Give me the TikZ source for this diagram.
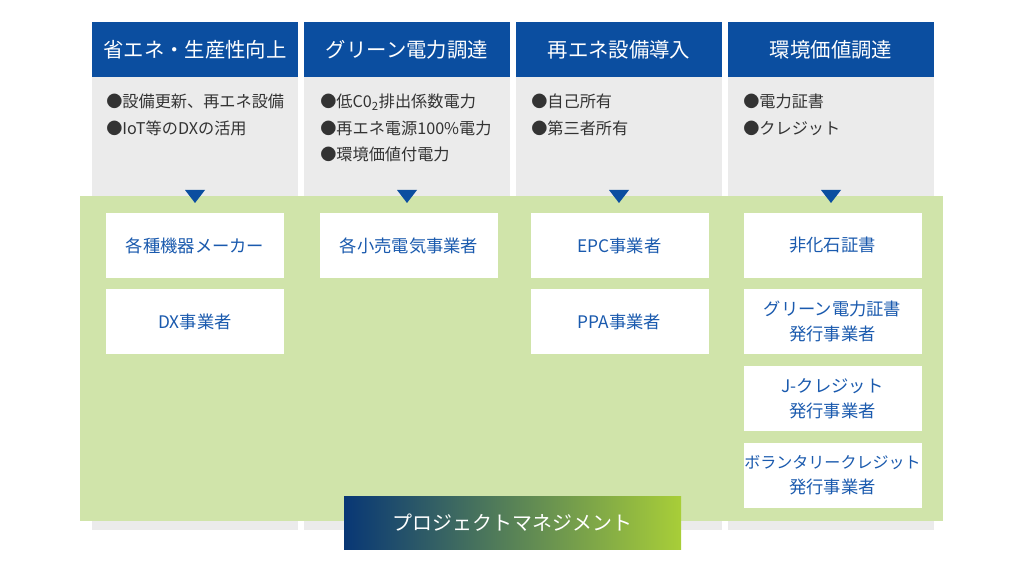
\documentclass[tikz,border=0pt]{standalone}
\usepackage{fontspec}
\setmainfont{Noto Sans CJK JP}
\usepackage{tikz}
\usetikzlibrary{positioning}

\definecolor{hdblue}{RGB}{11,78,160}
\definecolor{txblue}{RGB}{26,90,174}
\definecolor{colgray}{RGB}{235,235,235}
\definecolor{panelgreen}{RGB}{208,228,170}
\definecolor{gradnavy}{RGB}{8,55,117}
\definecolor{gradlime}{RGB}{168,206,56}
\definecolor{bultext}{RGB}{51,51,51}

\begin{document}
\begin{tikzpicture}[x=0.025cm, y=-0.025cm,
  header/.style={fill=hdblue, text=white, minimum width=206*0.025cm, minimum height=55*0.025cm,
    inner sep=0pt, font=\fontsize{14.5}{17}\selectfont},
  bullets/.style={anchor=north west, text=bultext, align=left, inner sep=0pt,
    font=\fontsize{11.5}{18.8}\selectfont},
  player/.style={fill=white, text=txblue, minimum width=178*0.025cm, minimum height=65*0.025cm,
    inner sep=0pt, align=center, font=\fontsize{12.3}{17.7}\selectfont},
  pointer/.style={fill=hdblue}]
  \useasboundingbox (0,0) rectangle (1024,576);

  % Gray columns and headers
  \foreach \x/\name/\title in {92/hdA/省エネ・生産性向上, 304/hdB/グリーン電力調達,
                               516/hdC/再エネ設備導入, 728/hdD/環境価値調達} {
    \fill[colgray] (\x,77) rectangle (\x+206,530);
    \node[header] (\name) at (\x+103,49.5) {\title};
  }

  % Bullet lists
  \node[bullets] (bulA) at (106,94) {●設備更新、再エネ設備\\●IoT等のDXの活用};
  \node[bullets] (bulB) at (320,94) {●低C0\textsubscript{2}排出係数電力\\●再エネ電源100\%電力\\●環境価値付電力};
  \node[bullets] (bulC) at (531,94) {●自己所有\\●第三者所有};
  \node[bullets] (bulD) at (743,94) {●電力証書\\●クレジット};

  % Green panel
  \fill[panelgreen] (80,196) rectangle (943,521);

  % Down pointers
  \foreach \c in {195, 407, 619, 831} {
    \fill[pointer] (\c-10,190) -- (\c+10,190) -- (\c,203) -- cycle;
  }

  % Players per column
  \node[player] (mfr)   at (195,245.5) {各種機器メーカー};
  \node[player] (dx)    at (195,321.5) {DX事業者};
  \node[player] (retail) at (409,245.5) {各小売電気事業者};
  \node[player] (epc)   at (619.5,245.5) {EPC事業者};
  \node[player] (ppa)   at (619.5,321.5) {PPA事業者};
  \node[player] (nonfossil) at (832.5,245.5) {非化石証書};
  \node[player] (greencert) at (832.5,321.5) {グリーン電力証書\\発行事業者};
  \node[player] (jcredit)   at (832.5,398.5) {J-クレジット\\発行事業者};
  \node[player] (voluntary) at (832.5,475.5) {{\fontsize{11.4}{17.7}\selectfont ボランタリークレジット}\\発行事業者};

  % Project management bar
  \shade[left color=gradnavy, right color=gradlime] (344,496) rectangle (681,549);
  \node[text=white, font=\fontsize{14.2}{17}\selectfont] (pm) at (512.5,522.5) {プロジェクトマネジメント};
\end{tikzpicture}
\end{document}
